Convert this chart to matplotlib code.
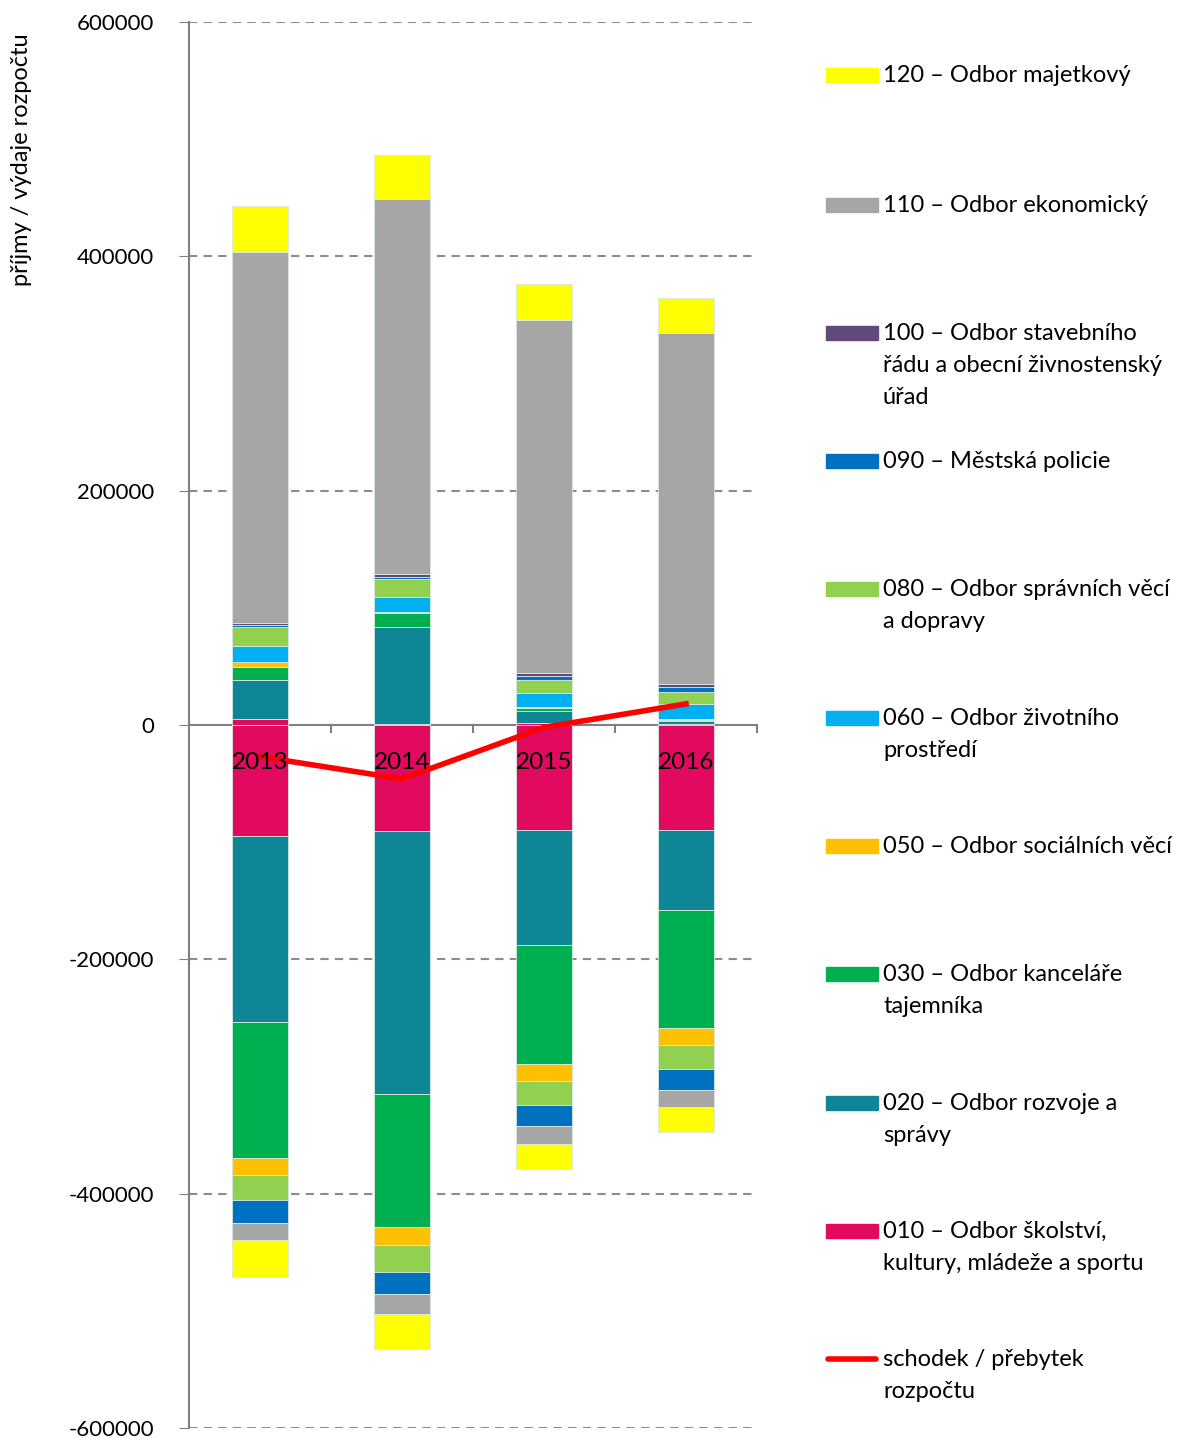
import numpy as np
import matplotlib
matplotlib.use("Agg")
import matplotlib.pyplot as plt
from matplotlib.patches import Rectangle
from matplotlib.lines import Line2D

plt.rcParams['font.family'] = ['Lato', 'DejaVu Sans']

years = ["2013", "2014", "2015", "2016"]

# departments, bottom to top of the stack
codes = ["010", "020", "030", "050", "060", "080", "090", "100", "110", "120"]
names = [
    "010 – Odbor školství,\nkultury, mládeže a sportu",
    "020 – Odbor rozvoje a\nsprávy",
    "030 – Odbor kanceláře\ntajemníka",
    "050 – Odbor sociálních věcí",
    "060 – Odbor životního\nprostředí",
    "080 – Odbor správních věcí\na dopravy",
    "090 – Městská policie",
    "100 – Odbor stavebního\nřádu a obecní živnostenský\núřad",
    "110 – Odbor ekonomický",
    "120 – Odbor majetkový",
]
colors = ["#E10A5F", "#0E8696", "#00B050", "#FFC000", "#00B0F0",
          "#92D050", "#0070C0", "#604A7B", "#A6A6A6", "#FFFF00"]

# revenues (příjmy), one list per department: 2013..2016
income = {
    "010": [5000, 500, 1700, 1000],
    "020": [33000, 83400, 10200, 2000],
    "030": [11400, 11900, 2300, 1000],
    "050": [4500, 600, 800, 1100],
    "060": [13900, 12700, 12500, 12800],
    "080": [16200, 15400, 10800, 10500],
    "090": [1100, 1700, 3700, 4300],
    "100": [2300, 2800, 2600, 2600],
    "110": [316300, 320300, 301300, 299300],
    "120": [39600, 37600, 30700, 29900],
}
# expenditures (výdaje), negative
expense = {
    "010": [-94500, -90500, -89600, -89600],
    "020": [-159300, -224500, -98200, -68300],
    "030": [-116100, -113500, -101600, -100400],
    "050": [-14500, -15600, -14800, -14800],
    "060": [0, 0, 0, 0],
    "080": [-21300, -22800, -20000, -20500],
    "090": [-19600, -18800, -17900, -17600],
    "100": [0, 0, 0, 0],
    "110": [-14500, -17100, -15600, -15000],
    "120": [-31300, -30100, -21300, -20800],
}
balance = [-27000, -46000, -2000, 18000]

W, H = 1182, 1438
fs = 17
fig = plt.figure(figsize=(W / 100, H / 100), dpi=100)
ax = fig.add_axes([189 / W, 1 - 1428 / H, (757 - 189) / W, (1428 - 22) / H])

x = np.arange(len(years))
pos_bottom = np.zeros(len(years))
neg_bottom = np.zeros(len(years))
for code, col in zip(codes, colors):
    v = np.array(income[code], dtype=float)
    ax.bar(x, v, 0.4, bottom=pos_bottom, color=col, edgecolor="#d8e8e0",
           linewidth=0.6, zorder=2)
    pos_bottom += v
    n = np.array(expense[code], dtype=float)
    ax.bar(x, n, 0.4, bottom=neg_bottom, color=col, edgecolor="#d8e8e0",
           linewidth=0.6, zorder=2)
    neg_bottom += n

ax.plot(x, balance, color="#FF0000", lw=4, zorder=3)

ax.set_xlim(-0.5, 3.5)
ax.set_ylim(-600000, 600000)
ax.set_yticks(np.arange(-600000, 600001, 200000))
ax.set_yticklabels([str(v) for v in range(-600000, 600001, 200000)], fontsize=16)
ax.tick_params(axis="y", length=7, color="#808080", pad=18)
ax.set_xticks([])
for v in [-600000, -400000, -200000, 200000, 400000, 600000]:
    ax.axhline(v, color="#8c8c8c", lw=1.5, ls=(0, (4, 3)), zorder=1)

for s in ["top", "right", "bottom"]:
    ax.spines[s].set_visible(False)
ax.spines["left"].set_color("#808080")
ax.spines["left"].set_linewidth(1.5)

# category axis at zero
ax.axhline(0, color="#808080", lw=1.5, zorder=1.5)
for t in np.arange(0.5, 4.0, 1.0):
    ax.plot([t, t], [0, -7 * 853], color="#808080", lw=1.5, clip_on=False, zorder=1.5)
for xi, yr in zip(x, years):
    ax.text(xi, -32000, yr, ha="center", va="center", fontsize=fs + 0.5, zorder=4)

fig.text(22 / W, 1 - 160 / H, "příjmy / výdaje rozpočtu", rotation=90,
         ha="center", va="center", fontsize=fs)

# legend, drawn by hand
ys = [75, 205, 333, 461, 589, 718, 846, 974, 1103, 1231, 1359]
for i, (name, col) in enumerate(zip(names[::-1], colors[::-1])):
    yy = ys[i]
    fig.patches.append(Rectangle((826 / W, 1 - (yy + 7) / H), 52 / W, 14 / H,
                                 color=col, transform=fig.transFigure))
    fig.text(883 / W, 1 - (yy - 10) / H, name, ha="left", va="top",
             fontsize=fs, linespacing=1.65)
fig.lines.append(Line2D([828 / W, 876 / W], [1 - ys[-1] / H] * 2, color="#FF0000",
                        lw=4, solid_capstyle="round", transform=fig.transFigure))
fig.text(883 / W, 1 - (ys[-1] - 10) / H, "schodek / přebytek\nrozpočtu", ha="left",
         va="top", fontsize=fs, linespacing=1.65)

fig.savefig("out.png", dpi=100)
